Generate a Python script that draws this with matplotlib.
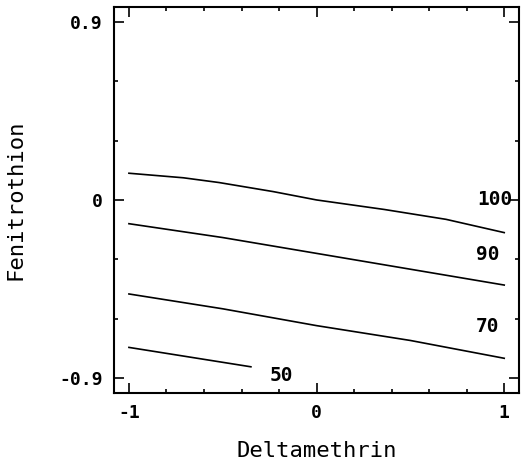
import numpy as np
import matplotlib.pyplot as plt
from matplotlib.ticker import FixedLocator, MultipleLocator

# contour lines (Deltamethrin, Fenitrothion)
x_100 = [-1.0, -0.71, -0.52, -0.23, 0.0, 0.36, 0.69, 1.0]
y_100 = [0.135, 0.112, 0.088, 0.042, 0.0, -0.048, -0.098, -0.165]
x_90 = [-1.0, -0.5, 0.0, 0.5, 1.0]
y_90 = [-0.12, -0.19, -0.27, -0.35, -0.43]
x_70 = [-1.0, -0.5, 0.0, 0.5, 1.0]
y_70 = [-0.475, -0.55, -0.635, -0.71, -0.80]
x_50 = [-1.0, -0.35]
y_50 = [-0.745, -0.843]

labels = ["100", "90", "70", "50"]
label_x = [0.95, 0.91, 0.91, -0.19]
label_y = [0.0, -0.275, -0.64, -0.885]

plt.rcParams['font.family'] = ['DejaVu Sans Mono']

fig = plt.figure(figsize=(5.25, 4.65), dpi=100)
ax = fig.add_axes([0.217, 0.155, 0.772, 0.83])

for xs, ys in [(x_100, y_100), (x_90, y_90), (x_70, y_70), (x_50, y_50)]:
    ax.plot(xs, ys, color="black", lw=1.2)

for t, lx, ly in zip(labels, label_x, label_y):
    ax.text(lx, ly, t, fontsize=14, fontweight="bold", ha="center", va="center")

ax.set_xlim(-1.08, 1.08)
ax.set_ylim(-0.975, 0.975)
ax.xaxis.set_major_locator(FixedLocator([-1, 0, 1]))
ax.xaxis.set_minor_locator(MultipleLocator(0.2))
ax.yaxis.set_major_locator(FixedLocator([-0.9, 0, 0.9]))
ax.yaxis.set_minor_locator(MultipleLocator(0.3))
ax.set_xticklabels(["-1", "0", "1"])
ax.set_yticklabels(["-0.9", "0", "0.9"])
ax.tick_params(which="both", direction="in", top=True, right=True, width=1.2)
ax.tick_params(which="major", length=7, labelsize=13, pad=8)
ax.tick_params(which="minor", length=3)
for lab in ax.get_xticklabels() + ax.get_yticklabels():
    lab.set_fontweight("bold")
for s in ax.spines.values():
    s.set_linewidth(1.5)

ax.set_xlabel("Deltamethrin", fontsize=16, labelpad=14)
ax.set_ylabel("Fenitrothion", fontsize=16, labelpad=24)

fig.savefig("out.png", dpi=100)
